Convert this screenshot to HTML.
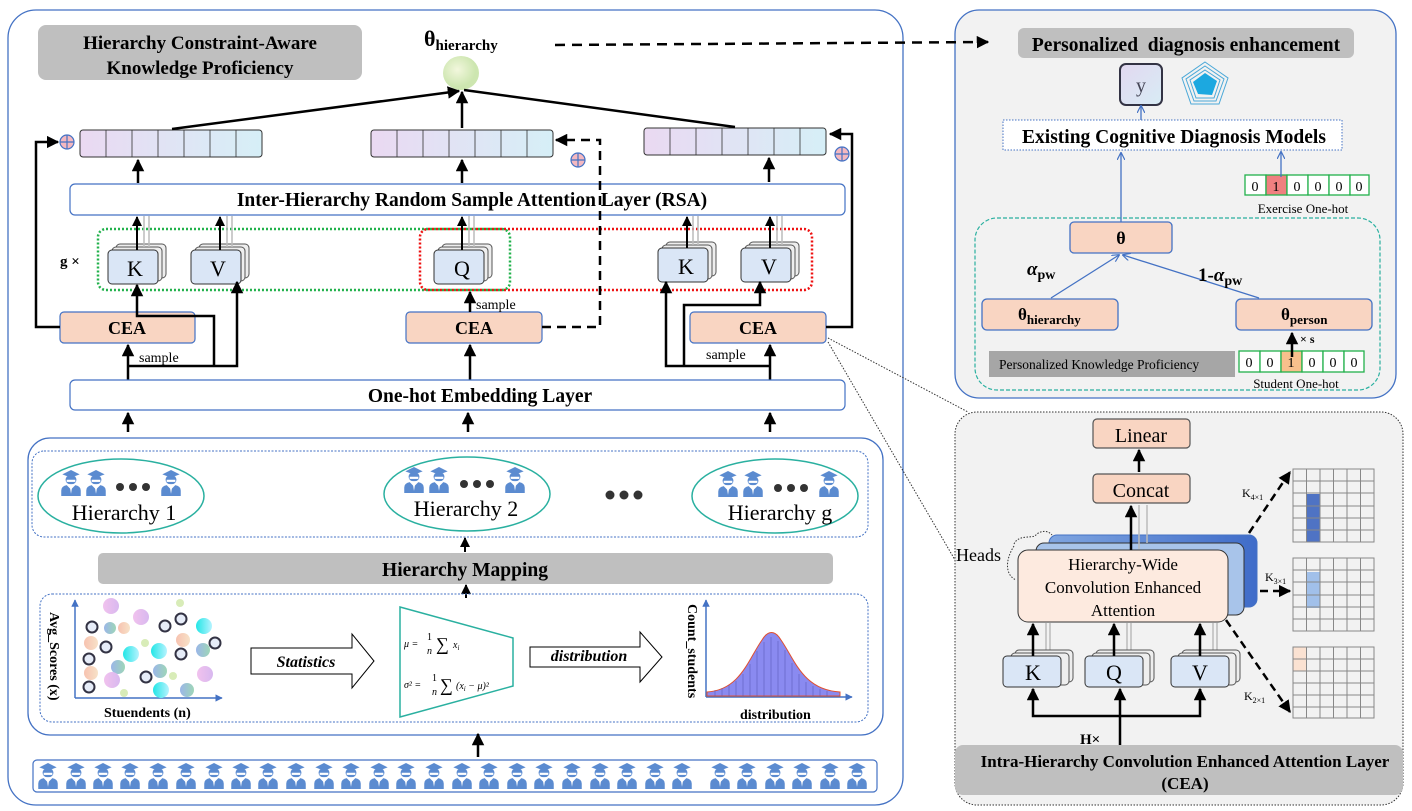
<!DOCTYPE html>
<html><head><meta charset="utf-8"><style>
body{margin:0;background:#fff}
svg{display:block}
text{font-family:"Liberation Serif",serif}
.b{font-weight:bold}
</style></head><body>
<svg width="1412" height="811" viewBox="0 0 1412 811" xmlns="http://www.w3.org/2000/svg">
<defs>
<linearGradient id="vec" x1="0" x2="1"><stop offset="0" stop-color="#ead9f2"/><stop offset="1" stop-color="#d6eff7"/></linearGradient>
<radialGradient id="ball" cx="0.4" cy="0.4"><stop offset="0" stop-color="#f2f7dd"/><stop offset="1" stop-color="#cde6b0"/></radialGradient>
<linearGradient id="cyan" x1="0" x2="1"><stop offset="0" stop-color="#22e6e6"/><stop offset="1" stop-color="#b6f3ff"/></linearGradient>
<linearGradient id="pink" x1="0" x2="1"><stop offset="0" stop-color="#f1c2ee"/><stop offset="1" stop-color="#d8b8ef"/></linearGradient>
<linearGradient id="peach" x1="0" x2="1"><stop offset="0" stop-color="#f7c2b0"/><stop offset="1" stop-color="#f7e2c8"/></linearGradient>
<linearGradient id="mix" x1="0" x2="1"><stop offset="0" stop-color="#9bb6e8"/><stop offset="1" stop-color="#9ed6b8"/></linearGradient>
<linearGradient id="ybox" x1="0" x2="1" y1="0" y2="1"><stop offset="0" stop-color="#e2d8f0"/><stop offset="1" stop-color="#d8ecf5"/></linearGradient>
<linearGradient id="head3" x1="0" x2="1"><stop offset="0" stop-color="#7fa5e0"/><stop offset="1" stop-color="#3f6cc9"/></linearGradient>
<marker id="ar" viewBox="0 0 10 10" refX="9" refY="5" markerWidth="5" markerHeight="5" orient="auto"><path d="M0,0 L10,5 L0,10 z" fill="#000"/></marker>
<marker id="arb" viewBox="0 0 10 10" refX="9" refY="5" markerWidth="6" markerHeight="6" orient="auto"><path d="M0,0 L10,5 L0,10" fill="none" stroke="#4472c4" stroke-width="1.5"/></marker>
<marker id="arbl" viewBox="0 0 10 10" refX="9" refY="5" markerWidth="5" markerHeight="5" orient="auto"><path d="M0,0 L10,5 L0,10 z" fill="#4472c4"/></marker>
<symbol id="stu" viewBox="0 0 20 24">
<path d="M2,4 L10,0 L18,4 L10,7 z" fill="#5b8bd0"/>
<rect x="5" y="5" width="10" height="8" rx="4" fill="#5b8bd0"/>
<rect x="6" y="9" width="8" height="2" fill="#fff"/>
<path d="M1,24 L1,19 Q1,15 6,14 L10,18 L14,14 Q19,15 19,19 L19,24 z" fill="#5b8bd0"/>
<path d="M9,16 L10,22 L11,16 z" fill="#fff"/>
</symbol>
<g id="kbox"><rect x="8" y="-6" width="50" height="34" rx="4" fill="#eee" stroke="#555"/><rect x="4" y="-3" width="50" height="34" rx="4" fill="#eee" stroke="#555"/><rect x="0" y="0" width="50" height="34" rx="4" fill="#dae6f6" stroke="#333"/></g>
</defs>

<!-- LEFT PANEL -->
<rect x="8" y="10" width="895" height="795" rx="28" fill="#fff" stroke="#4472c4" stroke-width="1.3"/>
<rect x="38" y="25" width="324" height="55" rx="8" fill="#bfbfbf"/>
<text x="200" y="49" font-size="19" class="b" text-anchor="middle">Hierarchy Constraint-Aware</text>
<text x="200" y="74" font-size="19" class="b" text-anchor="middle">Knowledge Proficiency</text>
<text x="424" y="46" font-size="22" class="b">θ<tspan font-size="15" dy="4">hierarchy</tspan></text>
<ellipse cx="461" cy="73" rx="18" ry="17" fill="url(#ball)"/>

<!-- vectors -->
<g stroke="#333" stroke-width="1">
<rect x="80" y="130" width="182" height="27" rx="3" fill="url(#vec)"/>
<rect x="371" y="130" width="182" height="27" rx="3" fill="url(#vec)"/>
<rect x="644" y="128" width="182" height="27" rx="3" fill="url(#vec)"/>
</g>
<g stroke="#333" stroke-width="0.8">
<path d="M106,130v27M132,130v27M158,130v27M184,130v27M210,130v27M236,130v27"/>
<path d="M397,130v27M423,130v27M449,130v27M475,130v27M501,130v27M527,130v27"/>
<path d="M670,128v27M696,128v27M722,128v27M748,128v27M774,128v27M800,128v27"/>
</g>
<g stroke="#000" stroke-width="2.5" fill="none">
<line x1="172" y1="129" x2="459" y2="91" marker-end="url(#ar)"/>
<line x1="462" y1="128" x2="462" y2="92" marker-end="url(#ar)"/>
<line x1="735" y1="127" x2="464" y2="90"/>
</g>
<g fill="#f4b8c0" stroke="#4472c4" stroke-width="1.2">
<circle cx="67" cy="142" r="7"/><circle cx="578" cy="160" r="7"/><circle cx="842" cy="154" r="7"/>
</g>
<g stroke="#4472c4" stroke-width="1.2"><path d="M60,142h14M67,135v14M571,160h14M578,153v14M835,154h14M842,147v14"/></g>

<!-- RSA -->
<rect x="70" y="184" width="775" height="31" rx="5" fill="#fff" stroke="#4472c4" stroke-width="1.2"/>
<text x="472" y="206" font-size="19.5" class="b" text-anchor="middle">Inter-Hierarchy Random Sample Attention Layer (RSA)</text>
<g stroke="#000" stroke-width="2.5"><line x1="138" y1="183" x2="138" y2="160" marker-end="url(#ar)"/><line x1="462" y1="183" x2="462" y2="160" marker-end="url(#ar)"/><line x1="769" y1="182" x2="769" y2="158" marker-end="url(#ar)"/></g>

<rect x="98" y="229" width="412" height="61" rx="8" fill="none" stroke="#22b14c" stroke-width="2.5" stroke-dasharray="2,2"/>
<rect x="420" y="229" width="392" height="61" rx="8" fill="none" stroke="#ee1111" stroke-width="2.5" stroke-dasharray="2,2"/>
<text x="60" y="266" font-size="15" class="b">g ×</text>
<use href="#kbox" x="108" y="250"/><use href="#kbox" x="191" y="250"/><use href="#kbox" x="434" y="250"/><use href="#kbox" x="658" y="248"/><use href="#kbox" x="741" y="248"/>
<g font-size="22" text-anchor="middle"><text x="135" y="276">K</text><text x="218" y="276">V</text><text x="462" y="276">Q</text><text x="686" y="274">K</text><text x="769" y="274">V</text></g>
<g stroke="#bbb" stroke-width="1.5"><path d="M144,216v31M149,216v31M227,216v31M232,216v31M469,216v31M474,216v31M693,216v29M698,216v29M777,216v29M782,216v29"/></g>
<g stroke="#000" stroke-width="2"><line x1="137" y1="250" x2="137" y2="217" marker-end="url(#ar)"/><line x1="220" y1="250" x2="220" y2="217" marker-end="url(#ar)"/><line x1="462" y1="250" x2="462" y2="217" marker-end="url(#ar)"/><line x1="687" y1="248" x2="687" y2="217" marker-end="url(#ar)"/><line x1="770" y1="248" x2="770" y2="217" marker-end="url(#ar)"/></g>

<!-- CEA -->
<g fill="#f9d5c2" stroke="#4472c4" stroke-width="1.2">
<rect x="60" y="312" width="135" height="31" rx="4"/><rect x="406" y="312" width="136" height="31" rx="4"/><rect x="690" y="312" width="136" height="31" rx="4"/>
</g>
<g font-size="18" class="b" text-anchor="middle"><text x="127" y="334">CEA</text><text x="474" y="334">CEA</text><text x="758" y="334">CEA</text></g>
<g stroke="#000" stroke-width="2.5" fill="none">
<polyline points="60,327 36,327 36,142 58,142" marker-end="url(#ar)"/>
<polyline points="826,327 852,327 852,134 830,134" marker-end="url(#ar)"/>
<polyline points="542,327 600,327 600,140 556,140" stroke-dasharray="9,6" marker-end="url(#ar)"/>
<line x1="128" y1="380" x2="128" y2="345" marker-end="url(#ar)"/>
<polyline points="128,366 237,366 237,282" marker-end="url(#ar)"/>
<polyline points="214,366 214,316 137,316 137,285" marker-end="url(#ar)"/>
<line x1="470" y1="312" x2="470" y2="292" marker-end="url(#ar)"/>
<line x1="470" y1="380" x2="470" y2="345" marker-end="url(#ar)"/>
<line x1="770" y1="380" x2="770" y2="345" marker-end="url(#ar)"/>
<polyline points="770,366 666,366 666,282" marker-end="url(#ar)"/>
<polyline points="684,366 684,305 760,305 760,282" marker-end="url(#ar)"/>
</g>
<g font-size="14"><text x="139" y="362">sample</text><text x="476" y="309">sample</text><text x="706" y="359">sample</text></g>

<rect x="70" y="380" width="775" height="30" rx="5" fill="#fff" stroke="#4472c4" stroke-width="1.2"/>
<text x="480" y="402" font-size="19.5" class="b" text-anchor="middle">One-hot Embedding Layer</text>
<g stroke="#000" stroke-width="2.5"><line x1="128" y1="432" x2="128" y2="413" marker-end="url(#ar)"/><line x1="468" y1="432" x2="468" y2="413" marker-end="url(#ar)"/><line x1="770" y1="432" x2="770" y2="413" marker-end="url(#ar)"/></g>

<!-- lower panel -->
<rect x="28" y="438" width="855" height="297" rx="22" fill="#fff" stroke="#4472c4" stroke-width="1.3"/>
<rect x="32" y="451" width="836" height="86" rx="12" fill="none" stroke="#4472c4" stroke-dasharray="2,1.5"/>
<g fill="none" stroke="#2ab0a0" stroke-width="1.5">
<ellipse cx="121" cy="496" rx="83" ry="37"/><ellipse cx="467" cy="494" rx="83" ry="37"/><ellipse cx="775" cy="496" rx="83" ry="37"/>
</g>
<g>
<use href="#stu" x="60" y="470" width="22" height="26"/><use href="#stu" x="85" y="470" width="22" height="26"/><use href="#stu" x="160" y="470" width="22" height="26"/>
<use href="#stu" x="403" y="467" width="22" height="26"/><use href="#stu" x="428" y="467" width="22" height="26"/><use href="#stu" x="504" y="467" width="22" height="26"/>
<use href="#stu" x="717" y="471" width="22" height="26"/><use href="#stu" x="742" y="471" width="22" height="26"/><use href="#stu" x="818" y="471" width="22" height="26"/>
</g>
<g fill="#333"><circle cx="120" cy="487" r="4"/><circle cx="133" cy="487" r="4"/><circle cx="146" cy="487" r="4"/>
<circle cx="464" cy="484" r="4"/><circle cx="477" cy="484" r="4"/><circle cx="490" cy="484" r="4"/>
<circle cx="778" cy="488" r="4"/><circle cx="791" cy="488" r="4"/><circle cx="804" cy="488" r="4"/>
<circle cx="610" cy="495" r="4.5"/><circle cx="624" cy="495" r="4.5"/><circle cx="638" cy="495" r="4.5"/></g>
<g font-size="22" text-anchor="middle"><text x="124" y="520">Hierarchy 1</text><text x="466" y="516">Hierarchy 2</text><text x="780" y="520">Hierarchy g</text></g>
<line x1="465" y1="552" x2="465" y2="538" stroke="#000" stroke-width="2" marker-end="url(#ar)"/>
<rect x="98" y="553" width="735" height="31" rx="5" fill="#bfbfbf"/>
<text x="465" y="576" font-size="19.5" class="b" text-anchor="middle">Hierarchy Mapping</text>
<line x1="466" y1="598" x2="466" y2="585" stroke="#000" stroke-width="2" marker-end="url(#ar)"/>
<rect x="40" y="594" width="828" height="128" rx="12" fill="none" stroke="#4472c4" stroke-dasharray="2,1.5"/>
<g stroke="#4472c4" stroke-width="1.5" fill="none"><line x1="75" y1="698" x2="75" y2="600" marker-end="url(#arbl)"/><line x1="75" y1="698" x2="222" y2="698" marker-end="url(#arbl)"/></g>
<text transform="translate(50,612) rotate(90)" font-size="14" class="b">Avg_Scores (x)</text>
<text x="104" y="717" font-size="14" class="b">Stuendents (n)</text>
<g>
<circle cx="111" cy="606" r="8" fill="url(#pink)"/><circle cx="141" cy="617" r="8" fill="url(#pink)"/><circle cx="180" cy="603" r="4" fill="#d8ecb8"/>
<circle cx="110" cy="628" r="6" fill="url(#mix)"/><circle cx="124" cy="628" r="6" fill="url(#peach)"/><circle cx="204" cy="626" r="8" fill="url(#cyan)"/>
<circle cx="91" cy="643" r="7" fill="url(#peach)"/><circle cx="131" cy="654" r="8" fill="url(#cyan)"/><circle cx="145" cy="643" r="4" fill="#d8ecb8"/>
<circle cx="159" cy="651" r="8" fill="url(#cyan)"/><circle cx="183" cy="640" r="7" fill="url(#peach)"/><circle cx="203" cy="650" r="7" fill="url(#mix)"/>
<circle cx="118" cy="667" r="7" fill="url(#mix)"/><circle cx="91" cy="673" r="7" fill="url(#peach)"/><circle cx="112" cy="680" r="8" fill="url(#pink)"/>
<circle cx="160" cy="671" r="7" fill="url(#mix)"/><circle cx="173" cy="676" r="4" fill="#d8ecb8"/><circle cx="205" cy="674" r="8" fill="url(#pink)"/>
<circle cx="124" cy="693" r="4" fill="#d8ecb8"/><circle cx="161" cy="690" r="8" fill="url(#cyan)"/><circle cx="187" cy="690" r="7" fill="url(#mix)"/>
</g>
<g fill="#e6ecf8" stroke="#334" stroke-width="2">
<circle cx="92" cy="627" r="5.5"/><circle cx="165" cy="626" r="5.5"/><circle cx="181" cy="619" r="5.5"/><circle cx="106" cy="647" r="5.5"/>
<circle cx="215" cy="643" r="5.5"/><circle cx="181" cy="654" r="5.5"/><circle cx="89" cy="659" r="5.5"/><circle cx="146" cy="677" r="5.5"/><circle cx="89" cy="687" r="5.5"/>
</g>
<path d="M251,648 L352,648 L352,634 L374,661 L352,688 L352,674 L251,674 z" fill="#fff" stroke="#000"/>
<text x="306" y="667" font-size="16" class="b" font-style="italic" text-anchor="middle">Statistics</text>
<path d="M400,607 L513,638 L513,686 L400,717 z" fill="#fff" stroke="#2ab0a0" stroke-width="1.5"/>
<g font-size="10" font-style="italic"><text x="404" y="647">μ = </text><text x="427" y="640" font-style="normal">1</text><text x="427" y="654">n</text><text x="436" y="650" font-size="18" font-style="normal">∑</text><text x="453" y="648">x<tspan font-size="7" dy="2">i</tspan></text>
<text x="404" y="688">σ² = </text><text x="432" y="681" font-style="normal">1</text><text x="432" y="695">n</text><text x="440" y="691" font-size="18" font-style="normal">∑</text><text x="456" y="689">(x<tspan font-size="7" dy="2">i</tspan><tspan dy="-2"> − μ)²</tspan></text></g>
<path d="M530,647 L640,647 L640,632 L662,657 L640,682 L640,667 L530,667 z" fill="#fff" stroke="#000"/>
<text x="589" y="661" font-size="16" class="b" font-style="italic" text-anchor="middle">distribution</text>
<g stroke="#4472c4" stroke-width="1.5" fill="none"><line x1="706" y1="697" x2="706" y2="600" marker-end="url(#arbl)"/><line x1="706" y1="697" x2="852" y2="697" marker-end="url(#arbl)"/></g>
<text transform="translate(688,604) rotate(90)" font-size="14" class="b">Count_students</text>
<text x="740" y="719" font-size="14" class="b">distribution</text>
<path d="M707,692 C740,690 748,660 762,640 C768,630 775,630 781,640 C795,660 803,690 840,692 L840,696 L707,696 z" fill="#8a8af0" stroke="#e05030" stroke-width="1"/>
<g stroke="#5050b0" stroke-width="0.5"><path d="M715,696v-6M722,696v-8M729,696v-11M736,696v-15M743,696v-22M750,696v-32M757,696v-45M764,696v-54M771,696v-59M778,696v-55M785,696v-46M792,696v-33M799,696v-22M806,696v-14M813,696v-10M820,696v-7M827,696v-5"/></g>

<line x1="478" y1="757" x2="478" y2="734" stroke="#000" stroke-width="2.5" marker-end="url(#ar)"/>
<rect x="33" y="760" width="844" height="32" rx="4" fill="#fff" stroke="#4472c4" stroke-width="1.2"/>
<g>
<use href="#stu" x="37" y="763" width="22" height="26"/><use href="#stu" x="65" y="763" width="22" height="26"/><use href="#stu" x="92" y="763" width="22" height="26"/><use href="#stu" x="119" y="763" width="22" height="26"/><use href="#stu" x="147" y="763" width="22" height="26"/><use href="#stu" x="175" y="763" width="22" height="26"/><use href="#stu" x="203" y="763" width="22" height="26"/><use href="#stu" x="230" y="763" width="22" height="26"/><use href="#stu" x="257" y="763" width="22" height="26"/><use href="#stu" x="285" y="763" width="22" height="26"/><use href="#stu" x="313" y="763" width="22" height="26"/><use href="#stu" x="340" y="763" width="22" height="26"/><use href="#stu" x="368" y="763" width="22" height="26"/><use href="#stu" x="395" y="763" width="22" height="26"/><use href="#stu" x="423" y="763" width="22" height="26"/><use href="#stu" x="451" y="763" width="22" height="26"/><use href="#stu" x="478" y="763" width="22" height="26"/><use href="#stu" x="506" y="763" width="22" height="26"/><use href="#stu" x="533" y="763" width="22" height="26"/><use href="#stu" x="561" y="763" width="22" height="26"/><use href="#stu" x="589" y="763" width="22" height="26"/><use href="#stu" x="616" y="763" width="22" height="26"/><use href="#stu" x="644" y="763" width="22" height="26"/><use href="#stu" x="671" y="763" width="22" height="26"/><use href="#stu" x="709" y="763" width="22" height="26"/><use href="#stu" x="736" y="763" width="22" height="26"/><use href="#stu" x="764" y="763" width="22" height="26"/><use href="#stu" x="791" y="763" width="22" height="26"/><use href="#stu" x="819" y="763" width="22" height="26"/><use href="#stu" x="846" y="763" width="22" height="26"/>
</g>

<g stroke="#333" stroke-width="1" stroke-dasharray="1.5,1.5" fill="none"><line x1="828" y1="338" x2="968" y2="412"/><line x1="828" y1="342" x2="955" y2="560"/></g>

<!-- RIGHT TOP PANEL -->
<rect x="955" y="10" width="441" height="388" rx="24" fill="#f2f2f2" stroke="#4472c4" stroke-width="1.3"/>
<line x1="555" y1="45" x2="988" y2="42" stroke="#000" stroke-width="2.5" stroke-dasharray="10,7" marker-end="url(#ar)"/>
<rect x="1018" y="28" width="336" height="30" rx="6" fill="#bfbfbf"/>
<text x="1186" y="51" font-size="19.5" class="b" text-anchor="middle" xml:space="preserve">Personalized  diagnosis enhancement</text>
<rect x="1120" y="64" width="42" height="41" rx="6" fill="url(#ybox)" stroke="#334" stroke-width="2"/>
<text x="1141" y="92" font-size="20" text-anchor="middle" fill="#445">y</text>
<g fill="none" stroke="#4aa8d8" stroke-width="1"><path d="M1205,62 L1228,78 L1219,104 L1191,104 L1182,78 z"/><path d="M1205,66 L1224,79 L1216,101 L1194,101 L1186,79 z"/><path d="M1205,70 L1220,80 L1214,98 L1196,98 L1190,80 z"/></g>
<path d="M1205,73 L1217,81 L1212,95 L1198,94 L1193,82 z" fill="#1ca8e0"/>
<line x1="1141" y1="120" x2="1141" y2="106" stroke="#4472c4" stroke-width="1.3" marker-end="url(#arb)"/>
<rect x="1003" y="120" width="339" height="30" fill="#fff" stroke="#4472c4" stroke-dasharray="1.5,1.5"/>
<text x="1174" y="143" font-size="19.5" class="b" text-anchor="middle">Existing Cognitive Diagnosis Models</text>
<g stroke="#22b14c" stroke-width="1.3" fill="#fff"><rect x="1245" y="175" width="21" height="20"/><rect x="1266" y="175" width="21" height="20" fill="#f08080"/><rect x="1287" y="175" width="21" height="20"/><rect x="1308" y="175" width="21" height="20"/><rect x="1329" y="175" width="21" height="20"/><rect x="1350" y="175" width="19" height="20"/></g>
<g font-size="14" text-anchor="middle"><text x="1255" y="191">0</text><text x="1276" y="191">1</text><text x="1297" y="191">0</text><text x="1318" y="191">0</text><text x="1339" y="191">0</text><text x="1359" y="191">0</text></g>
<text x="1303" y="213" font-size="13" text-anchor="middle">Exercise One-hot</text>
<line x1="1281" y1="177" x2="1281" y2="152" stroke="#4472c4" stroke-width="1.3" marker-end="url(#arb)"/>
<line x1="1121" y1="222" x2="1121" y2="153" stroke="#4472c4" stroke-width="1.3" marker-end="url(#arb)"/>
<rect x="975" y="218" width="405" height="172" rx="22" fill="none" stroke="#2ab0a0" stroke-width="1.2" stroke-dasharray="4,2"/>
<g fill="#f9d5c2" stroke="#4472c4" stroke-width="1.3">
<rect x="1070" y="222" width="102" height="31" rx="4"/><rect x="982" y="299" width="136" height="31" rx="5"/><rect x="1236" y="299" width="136" height="31" rx="5"/></g>
<text x="1121" y="244" font-size="18" class="b" text-anchor="middle">θ</text>
<text x="1018" y="320" font-size="17" class="b">θ<tspan font-size="13" dy="4">hierarchy</tspan></text>
<text x="1281" y="320" font-size="17" class="b">θ<tspan font-size="13" dy="4">person</tspan></text>
<g stroke="#4472c4" stroke-width="1.3"><line x1="1051" y1="298" x2="1119" y2="255" marker-end="url(#arb)"/><line x1="1259" y1="298" x2="1123" y2="255" marker-end="url(#arb)"/></g>
<text x="1027" y="275" font-size="19" class="b" font-style="italic">α<tspan font-size="14" dy="4" font-style="normal">pw</tspan></text>
<text x="1198" y="281" font-size="19" class="b">1-<tspan font-style="italic">α</tspan><tspan font-size="14" dy="4">pw</tspan></text>
<rect x="989" y="351" width="246" height="26" fill="#a6a6a6"/>
<text x="999" y="369" font-size="13.5">Personalized Knowledge Proficiency</text>
<g stroke="#22b14c" stroke-width="1.3" fill="#fff"><rect x="1239" y="351" width="21" height="21"/><rect x="1260" y="351" width="21" height="21"/><rect x="1281" y="351" width="21" height="21" fill="#f8c08c"/><rect x="1302" y="351" width="21" height="21"/><rect x="1323" y="351" width="21" height="21"/><rect x="1344" y="351" width="20" height="21"/></g>
<g font-size="14" text-anchor="middle"><text x="1249" y="367">0</text><text x="1270" y="367">0</text><text x="1291" y="367">1</text><text x="1312" y="367">0</text><text x="1333" y="367">0</text><text x="1354" y="367">0</text></g>
<text x="1296" y="388" font-size="13" text-anchor="middle">Student One-hot</text>
<line x1="1292" y1="357" x2="1292" y2="333" stroke="#000" stroke-width="2.5" marker-end="url(#ar)"/>
<text x="1300" y="343" font-size="12" class="b">×   s</text>

<!-- RIGHT BOTTOM PANEL -->
<rect x="955" y="412" width="448" height="393" rx="22" fill="#f2f2f2" stroke="#333" stroke-width="1" stroke-dasharray="1.5,1.5"/>
<g fill="#f9d5c2" stroke="#555" stroke-width="1.2"><rect x="1093" y="419" width="97" height="29" rx="4"/><rect x="1093" y="474" width="97" height="29" rx="4"/></g>
<text x="1141" y="442" font-size="20" text-anchor="middle">Linear</text>
<text x="1141" y="497" font-size="20" text-anchor="middle">Concat</text>
<line x1="1139" y1="472" x2="1139" y2="450" stroke="#000" stroke-width="2.5" marker-end="url(#ar)"/>
<rect x="1049" y="535" width="208" height="72" rx="8" fill="url(#head3)" stroke="#4472c4"/>
<rect x="1036" y="543" width="208" height="72" rx="8" fill="#a8c4ea" stroke="#333"/>
<rect x="1018" y="550" width="210" height="72" rx="10" fill="#fdeadf" stroke="#333"/>
<g font-size="17" text-anchor="middle"><text x="1123" y="570">Hierarchy-Wide</text><text x="1123" y="593">Convolution Enhanced</text><text x="1123" y="616">Attention</text></g>
<text x="956" y="561" font-size="18">Heads</text>
<path d="M1014,544 C1018,535 1030,538 1035,536 C1040,530 1048,530 1052,535" fill="none" stroke="#333" stroke-dasharray="1.5,1.5"/>
<path d="M1014,546 C1005,560 1005,575 1016,580" fill="none" stroke="#333" stroke-dasharray="1.5,1.5"/>
<g stroke="#bbb" stroke-width="1.5"><path d="M1139,505v44M1147,505v38M1046,623v28M1050,623v28M1127,623v28M1131,623v28M1213,623v28M1217,623v28"/></g>
<line x1="1131" y1="550" x2="1131" y2="506" stroke="#000" stroke-width="2.5" marker-end="url(#ar)"/>
<g><rect x="1015" y="650" width="58" height="32" rx="4" fill="#eee" stroke="#555"/><rect x="1011" y="653" width="58" height="32" rx="4" fill="#eee" stroke="#555"/><rect x="1003" y="656" width="58" height="31" rx="4" fill="#dae6f6" stroke="#333"/>
<rect x="1096" y="650" width="58" height="32" rx="4" fill="#eee" stroke="#555"/><rect x="1092" y="653" width="58" height="32" rx="4" fill="#eee" stroke="#555"/><rect x="1085" y="656" width="58" height="31" rx="4" fill="#dae6f6" stroke="#333"/>
<rect x="1182" y="650" width="58" height="32" rx="4" fill="#eee" stroke="#555"/><rect x="1178" y="653" width="58" height="32" rx="4" fill="#eee" stroke="#555"/><rect x="1171" y="656" width="58" height="31" rx="4" fill="#dae6f6" stroke="#333"/></g>
<g font-size="22" text-anchor="middle"><text x="1033" y="680">K</text><text x="1114" y="680">Q</text><text x="1200" y="680">V</text></g>
<g stroke="#000" stroke-width="2.5" fill="none">
<line x1="1033" y1="656" x2="1033" y2="624" marker-end="url(#ar)"/><line x1="1114" y1="656" x2="1114" y2="624" marker-end="url(#ar)"/><line x1="1200" y1="656" x2="1200" y2="624" marker-end="url(#ar)"/>
<polyline points="1033,689 1033,716 1200,716 1200,689"/>
<line x1="1033" y1="700" x2="1033" y2="689" marker-end="url(#ar)"/><line x1="1200" y1="700" x2="1200" y2="689" marker-end="url(#ar)"/>
<line x1="1120" y1="745" x2="1120" y2="689" marker-end="url(#ar)"/>
</g>
<text x="1080" y="744" font-size="15" class="b">H×</text>
<rect x="955" y="745" width="448" height="50" rx="8" fill="#bfbfbf"/>
<text x="1185" y="767" font-size="17" class="b" text-anchor="middle">Intra-Hierarchy Convolution Enhanced Attention Layer</text>
<text x="1185" y="789" font-size="17" class="b" text-anchor="middle">(CEA)</text>
<g stroke="#000" stroke-width="2.5" stroke-dasharray="8,5" fill="none">
<line x1="1249" y1="533" x2="1290" y2="472" marker-end="url(#ar)"/>
<line x1="1260" y1="591" x2="1290" y2="591" marker-end="url(#ar)"/>
<line x1="1226" y1="620" x2="1290" y2="712" marker-end="url(#ar)"/>
</g>
<g font-size="12"><text x="1242" y="497">K<tspan font-size="8" dy="3">4×1</tspan></text><text x="1265" y="581">K<tspan font-size="8" dy="3">3×1</tspan></text><text x="1244" y="700">K<tspan font-size="8" dy="3">2×1</tspan></text></g>
<rect x="1307" y="494" width="13.5" height="48" fill="#4f73c4"/>
<rect x="1307" y="572" width="13.5" height="36" fill="#a1c0ea"/>
<rect x="1293" y="647" width="13.5" height="24" fill="#fbe2d2"/>
<g fill="none" stroke="#888" stroke-width="1">
<rect x="1293" y="469" width="81" height="73"/><path d="M1306.5,469v73M1320,469v73M1333.5,469v73M1347,469v73M1360.5,469v73M1293,481h81M1293,493h81M1293,506h81M1293,518h81M1293,530h81"/>
<rect x="1293" y="558" width="81" height="73"/><path d="M1306.5,558v73M1320,558v73M1333.5,558v73M1347,558v73M1360.5,558v73M1293,570h81M1293,582h81M1293,595h81M1293,607h81M1293,619h81"/>
<rect x="1293" y="647" width="81" height="71"/><path d="M1306.5,647v71M1320,647v71M1333.5,647v71M1347,647v71M1360.5,647v71M1293,659h81M1293,671h81M1293,683h81M1293,695h81M1293,707h81"/>
</g>
</svg>
</body></html>
